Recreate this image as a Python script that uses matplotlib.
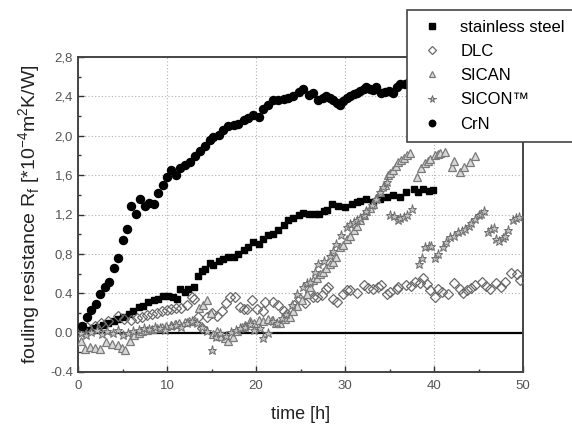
import matplotlib
matplotlib.use("Agg")
import matplotlib.pyplot as plt
from matplotlib.ticker import MultipleLocator, FixedLocator, FixedFormatter

plt.rcParams['font.family'] = ['Liberation Sans', 'DejaVu Sans']

# ---------------- data ----------------
steel_t = [0.0, 0.6, 1.1, 1.7, 2.3, 2.8, 3.4, 4.0, 4.5, 5.1,
           5.7, 6.2, 6.8, 7.3, 7.9, 8.5, 9.0, 9.6, 10.1, 10.7,
           11.1, 11.5, 12.0, 12.4, 13.0, 13.5, 13.9, 14.3, 14.8, 15.2,
           15.8, 16.3, 16.9, 17.5, 18.0, 18.6, 19.1, 19.7, 20.3, 20.8,
           21.4, 21.9, 22.5, 23.1, 23.6, 24.2, 24.8, 25.3, 25.9, 26.6,
           27.1, 27.6, 28.0, 28.5, 29.2, 30.0, 30.8, 31.3, 31.7, 32.4,
           33.2, 33.9, 34.7, 35.4, 36.2, 36.9, 37.7, 38.2, 38.8, 39.4,
           39.9]
steel_v = [0.01, 0.02, 0.03, 0.05, 0.06, 0.08, 0.10, 0.12, 0.14, 0.16,
           0.19, 0.22, 0.26, 0.27, 0.31, 0.33, 0.34, 0.37, 0.37, 0.36,
           0.34, 0.44, 0.41, 0.44, 0.46, 0.58, 0.63, 0.65, 0.71, 0.69,
           0.73, 0.75, 0.77, 0.77, 0.80, 0.84, 0.87, 0.92, 0.90, 0.95,
           0.99, 1.00, 1.04, 1.09, 1.14, 1.16, 1.19, 1.22, 1.21, 1.21,
           1.21, 1.24, 1.25, 1.31, 1.29, 1.28, 1.31, 1.33, 1.34, 1.36,
           1.33, 1.36, 1.38, 1.40, 1.38, 1.43, 1.46, 1.43, 1.46, 1.44,
           1.45]

dlc_t = [0.0, 0.5, 1.0, 1.9, 2.6, 3.4, 4.5, 5.2, 6.0, 6.6,
         7.2, 7.8, 8.3, 8.9, 9.4, 10.0, 10.5, 11.0, 11.6, 12.2,
         12.8, 13.0, 13.5, 13.9, 14.5, 15.0, 15.6, 16.2, 16.6, 17.1,
         17.6, 18.2, 18.6, 19.0, 19.5, 20.1, 20.8, 21.0, 21.9, 22.5,
         23.1, 23.5, 24.3, 24.9, 25.5, 26.1, 26.4, 26.8, 27.4, 27.9,
         28.1, 28.7, 29.1, 29.8, 30.2, 30.6, 31.3, 32.1, 32.6, 33.2,
         33.7, 34.1, 34.7, 35.1, 35.8, 36.0, 36.9, 37.4, 37.9, 38.4,
         38.8, 39.2, 39.6, 40.1, 40.5, 40.9, 41.6, 42.2, 42.9, 43.3,
         43.7, 44.2, 44.6, 45.4, 45.8, 46.3, 47.0, 47.5, 48.0, 48.7,
         49.3, 49.7]
dlc_v = [0.02, 0.04, 0.06, 0.07, 0.10, 0.12, 0.17, 0.14, 0.13, 0.15,
         0.16, 0.18, 0.19, 0.20, 0.22, 0.23, 0.24, 0.25, 0.25, 0.28,
         0.36, 0.34, 0.16, 0.05, 0.16, 0.20, 0.17, 0.22, 0.30, 0.36,
         0.36, 0.26, 0.24, 0.24, 0.33, 0.24, 0.22, 0.31, 0.31, 0.28,
         0.22, 0.19, 0.28, 0.34, 0.30, 0.41, 0.36, 0.36, 0.38, 0.44,
         0.46, 0.34, 0.31, 0.39, 0.43, 0.43, 0.40, 0.48, 0.45, 0.44,
         0.46, 0.48, 0.39, 0.41, 0.44, 0.46, 0.48, 0.47, 0.51, 0.50,
         0.56, 0.49, 0.43, 0.36, 0.44, 0.41, 0.39, 0.50, 0.44, 0.40,
         0.43, 0.45, 0.48, 0.51, 0.47, 0.44, 0.50, 0.46, 0.51, 0.61,
         0.60, 0.53]

sican_t = [0.3, 0.8, 1.3, 1.9, 2.5, 3.2, 3.8, 4.5, 4.9, 5.3,
           5.8, 6.3, 6.8, 7.2, 7.8, 8.3, 8.9, 9.4, 9.9, 10.4,
           10.9, 11.4, 12.0, 12.5, 13.1, 13.6, 14.0, 14.5, 14.9, 15.2,
           15.6, 16.0, 16.5, 16.9, 17.4, 17.9, 18.4, 18.8, 19.3, 19.8,
           20.3, 20.8, 21.3, 21.8, 22.2, 22.7, 23.3, 23.8, 24.2, 24.6,
           25.2, 25.7, 26.1, 26.4, 26.8, 27.2, 27.5, 27.9, 28.3, 28.7,
           29.0, 29.4, 29.8, 30.2, 30.6, 31.0, 31.4, 31.7, 32.1, 32.4,
           32.8, 33.2, 33.5, 33.9, 34.5, 34.8, 35.1, 35.4, 35.7, 36.0,
           36.3, 36.6, 37.0, 37.3, 38.1, 38.5, 39.0, 39.3, 39.6, 40.1,
           40.4, 40.7, 41.2, 42.0, 42.3, 42.9, 43.4, 44.0, 44.6]
sican_v = [-0.08, -0.17, -0.15, -0.16, -0.17, -0.10, -0.12, -0.13, -0.16, -0.18,
           -0.08, -0.02, 0.00, 0.02, 0.03, 0.04, 0.05, 0.06, 0.07, 0.08,
           0.09, 0.10, 0.11, 0.12, 0.12, 0.25, 0.28, 0.33, 0.20, -0.01,
           0.02, -0.03, -0.05, -0.08, -0.04, 0.02, 0.06, 0.08, 0.12, 0.10,
           0.13, 0.12, 0.14, 0.13, 0.10, 0.10, 0.14, 0.16, 0.22, 0.27,
           0.33, 0.39, 0.46, 0.53, 0.56, 0.60, 0.62, 0.66, 0.70, 0.72,
           0.77, 0.87, 0.89, 0.95, 0.98, 1.04, 1.08, 1.14, 1.19, 1.24,
           1.27, 1.31, 1.37, 1.43, 1.50, 1.60, 1.62, 1.65, 1.69, 1.73,
           1.75, 1.77, 1.80, 1.82, 1.58, 1.67, 1.72, 1.74, 1.76, 1.80,
           1.81, 1.82, 1.84, 1.68, 1.74, 1.63, 1.68, 1.73, 1.79]

sicon_t = [0.3, 0.9, 1.5, 2.1, 2.7, 3.3, 3.9, 4.5, 5.1, 5.6,
           6.2, 6.8, 7.4, 8.0, 8.6, 9.2, 9.8, 10.4, 11.0, 11.6,
           12.2, 12.8, 13.4, 13.9, 14.5, 15.0, 15.5, 16.0, 16.6, 17.2,
           17.7, 18.2, 18.8, 19.3, 19.8, 20.4, 20.8, 21.3, 21.9, 22.4,
           22.9, 23.4, 24.0, 24.6, 25.3, 25.7, 26.1, 26.6, 27.0, 27.6,
           28.3, 28.6, 29.0, 29.6, 30.2, 30.6, 31.0, 31.4, 31.7, 32.1,
           32.4, 33.0, 33.5, 33.9, 34.3, 34.7, 35.1, 35.5, 35.9, 36.2,
           36.6, 37.0, 37.5, 38.3, 38.7, 39.0, 39.4, 39.7, 40.1, 40.5,
           41.0, 41.4, 41.8, 42.2, 42.7, 43.1, 43.5, 43.9, 44.2, 44.6,
           45.0, 45.3, 45.6, 46.1, 46.4, 46.7, 47.0, 47.3, 47.7, 48.0,
           48.3, 48.9, 49.2, 49.5]
sicon_v = [0.00, -0.02, 0.01, 0.03, -0.01, 0.02, 0.00, 0.03, -0.02, 0.00,
           0.02, 0.03, 0.05, 0.04, 0.06, 0.05, 0.03, 0.07, 0.08, 0.06,
           0.10, 0.12, 0.10, 0.06, 0.02, -0.18, -0.04, 0.00, -0.03, 0.01,
           0.03, 0.05, 0.06, 0.09, 0.03, 0.05, -0.05, 0.00, 0.12, 0.10,
           0.15, 0.19, 0.28, 0.39, 0.46, 0.50, 0.51, 0.62, 0.70, 0.73,
           0.78, 0.83, 0.90, 0.99, 1.07, 1.10, 1.12, 1.14, 1.16, 1.20,
           1.24, 1.30, 1.36, 1.43, 1.48, 1.53, 1.19, 1.18, 1.14, 1.16,
           1.17, 1.20, 1.26, 0.70, 0.76, 0.87, 0.88, 0.88, 0.76, 0.80,
           0.87, 0.92, 0.97, 0.98, 1.02, 1.03, 1.05, 1.08, 1.11, 1.15,
           1.19, 1.21, 1.24, 1.02, 1.05, 1.06, 0.95, 0.93, 0.96, 0.98,
           1.04, 1.14, 1.16, 1.17]

crn_t = [0.4, 1.0, 1.5, 2.0, 2.5, 3.0, 3.5, 4.0, 4.5, 5.0,
         5.5, 6.0, 6.5, 7.0, 7.5, 8.0, 8.5, 9.0, 9.6, 10.0,
         10.5, 11.0, 11.5, 12.0, 12.6, 13.1, 13.7, 14.3, 14.8, 15.2,
         15.8, 16.3, 16.9, 17.5, 18.0, 18.6, 19.1, 19.7, 20.3, 20.8,
         21.4, 21.9, 22.5, 23.1, 23.6, 24.2, 24.8, 25.3, 25.9, 26.4,
         27.0, 27.5, 27.9, 28.3, 28.7, 29.1, 29.4, 29.8, 30.2, 30.6,
         31.0, 31.4, 31.7, 32.1, 32.4, 32.8, 33.2, 33.5, 34.1, 34.5,
         34.9, 35.4, 35.8, 36.2, 36.7, 37.2, 37.8, 38.4, 39.0, 39.6]
crn_v = [0.07, 0.16, 0.23, 0.29, 0.39, 0.46, 0.51, 0.66, 0.76, 0.94,
         1.05, 1.29, 1.21, 1.36, 1.29, 1.32, 1.31, 1.42, 1.50, 1.58,
         1.65, 1.60, 1.67, 1.70, 1.73, 1.79, 1.85, 1.90, 1.96, 1.99,
         2.01, 2.06, 2.10, 2.11, 2.12, 2.16, 2.18, 2.21, 2.19, 2.27,
         2.31, 2.36, 2.36, 2.37, 2.38, 2.40, 2.44, 2.47, 2.41, 2.43,
         2.36, 2.38, 2.40, 2.38, 2.36, 2.33, 2.31, 2.35, 2.38, 2.40,
         2.42, 2.43, 2.45, 2.48, 2.50, 2.47, 2.46, 2.50, 2.43, 2.44,
         2.45, 2.43, 2.50, 2.53, 2.53, 2.55, 2.56, 2.57, 2.58, 2.60]

y_ticks = [-0.4, 0.0, 0.4, 0.8, 1.2, 1.6, 2.0, 2.4, 2.8]
y_tick_labels = ['-0.4', '0.0', '0.4', '0,8', '1,2', '1,6', '2,0', '2,4', '2,8']
x_ticks = [0, 10, 20, 30, 40, 50]
series_labels = ['stainless steel', 'DLC', 'SICAN', 'SICON\u2122', 'CrN']

# ---------------- figure ----------------
fig = plt.figure(figsize=(5.72, 4.29), dpi=100)
ax = fig.add_axes([78 / 572, 57 / 429, 445 / 572, 315 / 429])

ax.set_xlim(0, 50)
ax.set_ylim(-0.4, 2.8)

ax.grid(True, which='major', color='#b0b0b0', linestyle=(0, (1, 2)), linewidth=0.8)
ax.set_axisbelow(True)
ax.axhline(0, color='black', lw=1.6, zorder=1.5)

ax.plot(steel_t, steel_v, ls='none', marker='s', ms=4.6, mfc='black', mec='black',
        label=series_labels[0], zorder=3)
ax.plot(dlc_t, dlc_v, ls='none', marker='D', ms=5.3, mfc='none', mec='#6a6a6a', mew=0.9,
        label=series_labels[1], zorder=3)
ax.plot(sican_t, sican_v, ls='none', marker='^', ms=5.8, mfc='#d8d8d8', mec='#7a7a7a', mew=0.9,
        label=series_labels[2], zorder=3)
ax.plot(sicon_t, sicon_v, ls='none', marker='*', ms=6.8, mfc='#c0c0c0', mec='#6e6e6e', mew=0.7,
        label=series_labels[3], zorder=3)
ax.plot(crn_t, crn_v, ls='none', marker='o', ms=5.8, mfc='black', mec='black',
        label=series_labels[4], zorder=3)

ax.xaxis.set_major_locator(FixedLocator(x_ticks))
ax.xaxis.set_minor_locator(MultipleLocator(5))
ax.yaxis.set_major_locator(FixedLocator(y_ticks))
ax.yaxis.set_major_formatter(FixedFormatter(y_tick_labels))
ax.yaxis.set_minor_locator(MultipleLocator(0.2))
ax.tick_params(which='both', direction='in', colors='#333333', labelcolor='#555555', labelsize=9.5)
ax.tick_params(which='major', length=4, width=1)
ax.tick_params(which='minor', length=2.5, width=1)
ax.tick_params(axis='x', pad=6)

for s in ax.spines.values():
    s.set_color('#444444')
    s.set_linewidth(1.4)

ax.set_xlabel('time [h]', fontsize=13, color='#222222', labelpad=10)
ax.set_ylabel(r'fouling resistance R$_\mathregular{f}$ [*10$^\mathregular{-4}$m$^\mathregular{2}$K/W]',
              fontsize=14, color='#222222', labelpad=5)

leg = ax.legend(loc='upper left', bbox_to_anchor=((407 - 78) / 445, (372 - 10) / 315),
                fontsize=12, frameon=True, fancybox=False, borderpad=0.6,
                labelspacing=0.55, handletextpad=0.8, handlelength=1.8, markerscale=0.8,
                borderaxespad=0)
leg.get_frame().set_edgecolor('#444444')
leg.get_frame().set_linewidth(1.2)
leg.get_frame().set_alpha(1)
leg.set_zorder(10)

fig.savefig('out.png', dpi=100)
